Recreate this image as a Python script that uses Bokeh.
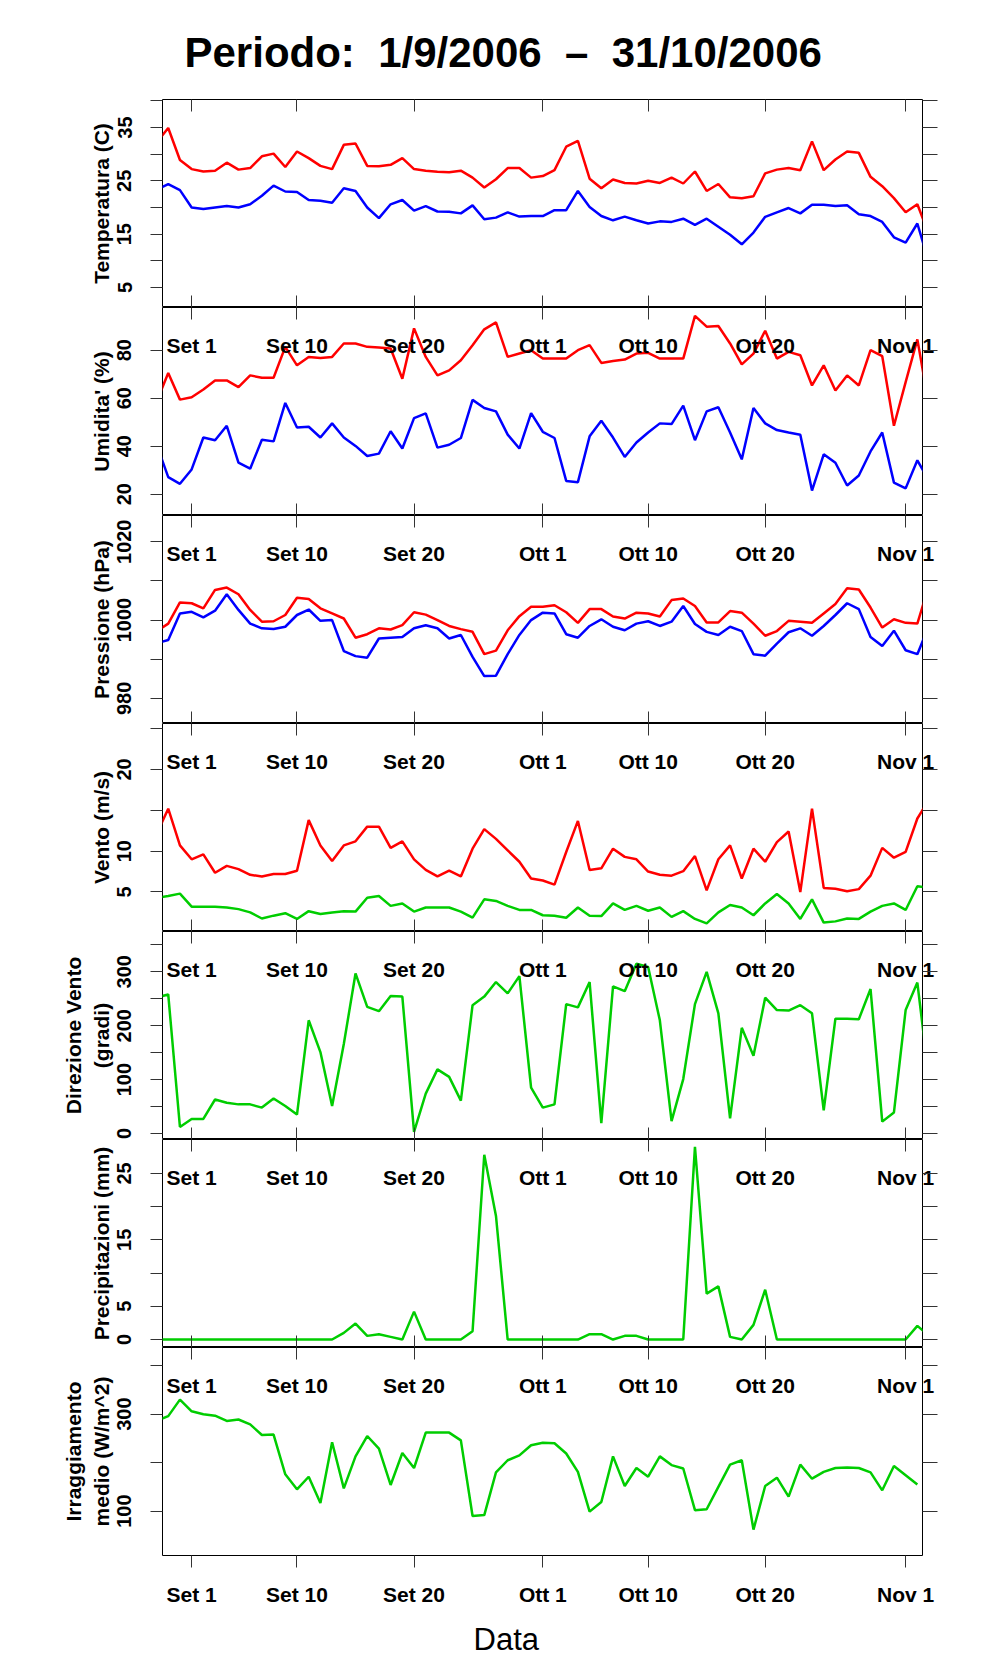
from bokeh.plotting import figure
from bokeh.models import Range1d, LinearAxis, FixedTicker, Title, CustomLabelingPolicy
from bokeh.layouts import column
from bokeh.embed import file_html
from bokeh.resources import INLINE

# ---------------- data ----------------
# day offset from 1 Sep 2006 (29 Aug 2006 ... 2 Nov 2006)
giorni = list(range(-3, 64))

x_ticks = [0, 9, 19, 30, 39, 49, 61]
x_tick_labels = ["Set 1", "Set 10", "Set 20", "Ott 1", "Ott 10", "Ott 20", "Nov 1"]

temp_max = [32.2, 34.9, 28.9,
            27.2, 26.75, 26.9, 28.4, 27.1, 27.4, 29.6, 30.1, 27.6, 30.5,
            29.25, 27.8, 27.2, 31.75, 32.0, 27.8, 27.75, 28.0, 29.25, 27.2,
            26.9, 26.7, 26.6, 26.9, 25.6, 23.75, 25.3, 27.4, 27.4, 25.6,
            25.9, 27.0, 31.4, 32.5, 25.4, 23.6, 25.25, 24.6, 24.5, 25.0,
            24.6, 25.6, 24.5, 26.75, 23.1, 24.4, 21.9, 21.75, 22.1, 26.4,
            27.1, 27.4, 27.0, 32.4, 27.0, 29.0, 30.5, 30.25, 25.75, 24.0,
            21.75, 19.1, 20.6, 14.9]
temp_min = [23.3, 24.4, 23.25,
            20.0, 19.7, 20.0, 20.3, 20.0, 20.6, 22.2, 24.1, 23.0, 22.9,
            21.4, 21.25, 20.9, 23.6, 23.1, 20.0, 18.0, 20.6, 21.4, 19.4,
            20.25, 19.25, 19.2, 18.9, 20.4, 17.8, 18.1, 19.1, 18.3, 18.4,
            18.4, 19.5, 19.5, 23.1, 20.1, 18.4, 17.6, 18.3, 17.6, 17.0,
            17.4, 17.3, 17.9, 16.75, 17.9, 16.4, 14.9, 13.1, 15.3, 18.25,
            19.1, 19.9, 18.9, 20.5, 20.5, 20.3, 20.4, 18.75, 18.4, 17.3,
            14.4, 13.4, 17.0, 9.6]

hum_max = [58.4, 70.5, 59.4,
           60.4, 63.6, 67.4, 67.4, 64.6, 69.5, 68.5, 68.5, 81.4, 73.7,
           77.2, 76.8, 77.2, 82.8, 82.8, 81.4, 81.1, 80.7, 68.1, 89.1,
           77.2, 69.5, 71.6, 75.8, 82.1, 88.7, 91.6, 77.2, 78.6, 80.0,
           76.5, 76.5, 76.5, 80.0, 82.1, 74.7, 75.5, 76.1, 78.6, 78.9,
           76.5, 76.5, 76.5, 94.3, 89.8, 90.1, 82.8, 74.1, 78.6, 88.1,
           76.5, 79.3, 77.9, 65.3, 73.7, 63.2, 69.5, 65.3, 80.0, 77.5,
           48.5, 66.7, 84.5, 56.8]
hum_min = [40.8, 27.1, 24.3,
           30.3, 43.6, 42.5, 48.5, 33.1, 30.6, 42.7, 42.0, 58.0, 47.8,
           48.1, 43.6, 49.5, 43.6, 40.1, 35.9, 36.9, 46.2, 39.0, 51.7,
           53.7, 39.4, 40.6, 43.4, 59.3, 55.9, 54.5, 44.8, 39.0, 53.8,
           46.0, 43.4, 25.5, 25.0, 44.1, 50.6, 43.6, 35.5, 41.5, 45.7,
           49.5, 49.2, 56.9, 42.5, 54.5, 56.2, 45.7, 34.5, 55.9, 49.5,
           46.7, 45.7, 44.8, 21.5, 36.6, 33.1, 23.6, 27.8, 37.8, 45.7,
           24.8, 22.4, 34.1, 25.5]

press_max = [997.1, 999.1, 1004.5,
             1004.3, 1003.0, 1007.7, 1008.3, 1006.6, 1002.6, 999.6, 999.7, 1001.3, 1005.7,
             1005.4, 1003.0, 1001.7, 1000.4, 995.5, 996.4, 997.9, 997.6, 998.7, 1002.0,
             1001.4, 1000.0, 998.5, 997.7, 997.0, 991.3, 992.2, 997.4, 1001.0, 1003.4,
             1003.4, 1003.8, 1002.0, 999.3, 1002.8, 1002.8, 1000.9, 1000.4, 1001.9, 1001.7,
             1000.9, 1005.1, 1005.5, 1003.6, 999.4, 999.4, 1002.3, 1001.9, 999.1, 996.0,
             997.2, 999.8, 999.6, 999.3, 1001.7, 1004.1, 1008.1, 1007.8, 1003.2, 998.1,
             1000.2, 999.3, 999.1, 1008.9]
press_min = [994.1, 994.9, 1001.7,
             1002.1, 1000.7, 1002.4, 1006.6, 1002.6, 999.1, 997.9, 997.7, 998.3, 1001.3,
             1002.7, 999.8, 1000.0, 992.1, 990.8, 990.4, 995.3, 995.5, 995.7, 997.9,
             998.7, 997.9, 995.3, 996.2, 990.6, 985.7, 985.8, 991.3, 996.2, 1000.0,
             1001.9, 1001.7, 996.4, 995.5, 998.5, 1000.2, 998.3, 997.4, 999.1, 999.7,
             998.5, 999.6, 1003.6, 999.0, 997.0, 996.2, 998.3, 997.2, 991.3, 990.9,
             994.0, 996.9, 997.9, 996.0, 998.5, 1001.3, 1004.3, 1002.8, 995.7, 993.4,
             997.3, 992.3, 991.3, 998.6]

wind_max = [12.1, 15.2, 10.7,
            9.0, 9.6, 7.35, 8.2, 7.8, 7.1, 6.9, 7.2, 7.2, 7.6,
            13.8, 10.7, 8.8, 10.7, 11.2, 13.0, 13.0, 10.4, 11.2, 9.0,
            7.7, 6.9, 7.6, 6.9, 10.3, 12.7, 11.5, 10.1, 8.7, 6.65,
            6.4, 5.9, 9.9, 13.7, 7.7, 7.9, 10.3, 9.3, 9.0, 7.5,
            7.1, 7.0, 7.55, 9.4, 5.2, 9.0, 10.7, 6.65, 10.3, 8.7,
            11.1, 12.4, 5.0, 15.2, 5.5, 5.4, 5.1, 5.35, 7.0, 10.4,
            9.2, 9.9, 14.0, 16.3]
wind_mean = [4.3, 4.5, 4.8,
             3.2, 3.2, 3.2, 3.1, 2.9, 2.5, 1.75, 2.1, 2.4, 1.7,
             2.65, 2.3, 2.5, 2.65, 2.6, 4.3, 4.5, 3.3, 3.6, 2.6,
             3.1, 3.1, 3.1, 2.6, 1.85, 4.1, 3.9, 3.3, 2.8, 2.8,
             2.15, 2.1, 1.85, 3.1, 2.1, 2.05, 3.6, 2.8, 3.3, 2.7,
             3.1, 1.95, 2.65, 1.7, 1.15, 2.5, 3.4, 3.1, 2.15, 3.6,
             4.75, 3.6, 1.7, 4.1, 1.25, 1.4, 1.75, 1.7, 2.6, 3.3,
             3.6, 2.8, 5.7, 5.5]

wind_dir = [252, 258, 12,
            27, 27, 63, 57, 54, 54, 48, 65, 51, 35,
            210, 151, 51, 166, 297, 235, 227, 255, 254, 3,
            74, 119, 105, 61, 238, 254, 281, 260, 292, 85,
            48, 54, 240, 234, 281, 19, 273, 264, 315, 309,
            210, 23, 101, 240, 300, 223, 28, 196, 144, 252,
            229, 228, 238, 223, 43, 213, 213, 212, 268, 22,
            39, 229, 280, 100]

precip = [0, 0, 0,
          0, 0, 0, 0, 0, 0, 0, 0, 0, 0,
          0, 0, 0, 1.0, 2.4, 0.55, 0.8, 0.4, 0, 4.2,
          0, 0, 0, 0, 1.25, 27.8, 18.6, 0, 0, 0,
          0, 0, 0, 0, 0.8, 0.8, 0, 0.55, 0.55, 0,
          0, 0, 0, 29.0, 6.9, 8.0, 0.4, 0, 2.2, 7.5,
          0, 0, 0, 0, 0, 0, 0, 0, 0, 0,
          0, 0, 2.05, 0.57]

# irradiance has no value for the last day
irr = [286, 296, 330,
       306, 300, 297, 286, 289, 279, 257, 258, 176, 145,
       171, 117, 242, 147, 213, 255, 229, 154, 220, 189,
       262, 262, 262, 246, 90, 92, 180, 205, 215, 236,
       241, 240, 219, 181, 99, 119, 213, 152, 189, 171,
       213, 195, 188, 102, 104, 150, 196, 205, 62, 152,
       169, 130, 196, 167, 181, 189, 190, 189, 180, 143,
       193, 174, 155]

temp_ticks = [5, 10, 15, 20, 25, 30, 35, 40]
temp_tick_labels = ["5", "", "15", "", "25", "", "35", ""]
hum_ticks = [20, 40, 60, 80]
hum_tick_labels = ["20", "40", "60", "80"]
press_ticks = [980, 990, 1000, 1010, 1020]
press_tick_labels = ["980", "", "1000", "", "1020"]
wind_ticks = [5, 10, 15, 20, 25]
wind_tick_labels = ["5", "10", "", "20", ""]
dir_ticks = [0, 50, 100, 150, 200, 250, 300, 350]
dir_tick_labels = ["0", "", "100", "", "200", "", "300", ""]
prec_ticks = [0, 5, 10, 15, 20, 25]
prec_tick_labels = ["0", "5", "", "15", "", "25"]
irr_ticks = [100, 200, 300, 400]
irr_tick_labels = ["100", "", "300", ""]

title_text = "Periodo:\u00a0 1/9/2006 \u00a0\u2013\u00a0 31/10/2006"
x_label = "Data"

# ---------------- styling ----------------
FONT = "Liberation Sans"
RED, BLUE, GREEN = "#FF0000", "#0000FF", "#00CD00"
TICK_COLOR = "#333333"

panels = [
    dict(label="Temperatura (C)", yr=(1.25, 40.25), ticks=temp_ticks, tl=temp_tick_labels,
         series=[(giorni, temp_max, RED), (giorni, temp_min, BLUE)]),
    dict(label="Umidita' (%)", yr=(11.1, 97.8), ticks=hum_ticks, tl=hum_tick_labels,
         series=[(giorni, hum_max, RED), (giorni, hum_min, BLUE)]),
    dict(label="Pressione (hPa)", yr=(973.6, 1026.7), ticks=press_ticks, tl=press_tick_labels,
         series=[(giorni, press_max, RED), (giorni, press_min, BLUE)]),
    dict(label="Vento (m/s)", yr=(0.16, 25.63), ticks=wind_ticks, tl=wind_tick_labels,
         series=[(giorni, wind_max, RED), (giorni, wind_mean, GREEN)]),
    dict(label="Direzione Vento\n(gradi)", yr=(-11.2, 374.8), ticks=dir_ticks, tl=dir_tick_labels,
         series=[(giorni, wind_dir, GREEN)]),
    dict(label="Precipitazioni (mm)", yr=(-1.2, 30.1), ticks=prec_ticks, tl=prec_tick_labels,
         series=[(giorni, precip, GREEN)]),
    dict(label="Irraggiamento\nmedio (W/m^2)", yr=(8.6, 437.5), ticks=irr_ticks, tl=irr_tick_labels,
         series=[(giorni[:len(irr)], irr, GREEN)]),
]

xr = Range1d(-2.49, 62.44)
x_over = {t: l for t, l in zip(x_ticks, x_tick_labels)}


def label_policy(hidden):
    js = "[" + ",".join("true" if h else "false" for h in hidden) + "]"
    code = ("const HIDE = " + js + ";\n"
            "for (const i of Array.from(indices)) { if (HIDE[i]) indices.unset(i) }\n"
            "return indices")
    return CustomLabelingPolicy(code=code)


def style_ticks(ax):
    ax.major_tick_line_color = TICK_COLOR
    ax.minor_tick_in = 0
    ax.minor_tick_out = 0
    ax.axis_line_color = None
    ax.major_label_text_font = FONT
    ax.major_label_text_font_style = "bold"
    ax.major_label_text_font_size = "20px"
    ax.major_label_text_color = "black"


def hide_labels(ax, n_ticks):
    ax.major_label_text_font_size = "0px"
    ax.major_label_standoff = 0
    ax.major_label_policy = label_policy([True] * n_ticks)


figs = []
n = len(panels)
for i, pn in enumerate(panels):
    first = i == 0
    last = i == n - 1
    p = figure(frame_width=760, frame_height=208, x_range=xr,
               y_range=Range1d(*pn["yr"]), output_backend="svg",
               toolbar_location=None, x_axis_location=None, y_axis_location=None,
               min_border=0, min_border_left=162, min_border_right=40,
               min_border_top=99 if first else 0,
               min_border_bottom=116 if last else 0)
    p.grid.visible = False
    p.outline_line_color = "black"
    p.outline_line_width = 1
    p.background_fill_color = "white"
    p.border_fill_color = "white"

    for xs, ys, col in pn["series"]:
        p.line(xs, ys, line_color=col, line_width=2.5)

    y_over = {t: l for t, l in zip(pn["ticks"], pn["tl"])}
    # left axis
    ya = LinearAxis(ticker=FixedTicker(ticks=pn["ticks"]), major_label_overrides=y_over,
                    axis_label=pn["label"])
    style_ticks(ya)
    ya.major_label_policy = label_policy([l == "" for l in pn["tl"]])
    ya.major_tick_out = 12
    ya.major_tick_in = 0
    ya.major_label_orientation = "vertical"
    ya.major_label_standoff = 19
    ya.axis_label_text_font = FONT
    ya.axis_label_text_font_style = "bold"
    ya.axis_label_text_font_size = "21px"
    ya.axis_label_text_color = "black"
    ya.axis_label_standoff = 2
    p.add_layout(ya, "left")

    # right axis (ticks only)
    yb = LinearAxis(ticker=FixedTicker(ticks=pn["ticks"]))
    style_ticks(yb)
    yb.major_tick_out = 15
    yb.major_tick_in = 0
    hide_labels(yb, len(pn["ticks"]))
    p.add_layout(yb, "right")

    # top axis: ticks inward, date labels drawn inside the panel (except the first)
    xa = LinearAxis(ticker=FixedTicker(ticks=x_ticks), major_label_overrides=x_over)
    style_ticks(xa)
    xa.major_label_text_font_size = "21px"
    xa.major_tick_in = 12
    xa.major_tick_out = 0
    if first:
        hide_labels(xa, len(x_ticks))
    else:
        xa.major_label_standoff = -49
    p.add_layout(xa, "above")

    # bottom axis
    xb = LinearAxis(ticker=FixedTicker(ticks=x_ticks), major_label_overrides=x_over)
    style_ticks(xb)
    xb.major_label_text_font_size = "21px"
    if last:
        xb.major_tick_out = 12
        xb.major_tick_in = 0
        xb.major_label_standoff = 15
        p.add_layout(xb, "below")
        t = Title(text=x_label, align="left", offset=311, text_font=FONT,
                  text_font_style="normal", text_font_size="31px", text_color="black",
                  standoff=23)
        p.add_layout(t, "below")
    else:
        xb.major_tick_in = 12
        xb.major_tick_out = 0
        hide_labels(xb, len(x_ticks))
        p.add_layout(xb, "below")

    if first:
        t = Title(text=title_text, align="left", offset=22, text_font=FONT,
                  text_font_style="bold", text_font_size="42px", text_color="black",
                  standoff=48)
        p.add_layout(t, "above")

    figs.append(p)

layout = column(*figs, spacing=0)
open("out.html", "w").write(file_html(layout, INLINE))
